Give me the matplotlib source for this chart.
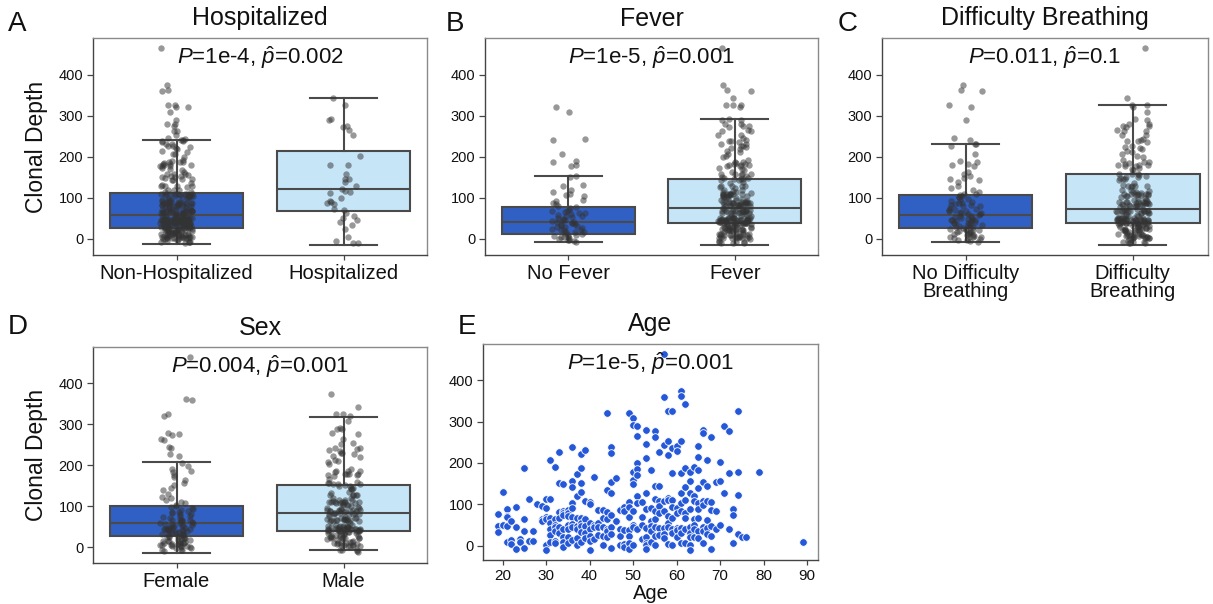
import numpy as np
import matplotlib
matplotlib.use("Agg")
import matplotlib.pyplot as plt
import seaborn as sns

# ---------------- data ----------------
# Panel E: every patient's age and clonal depth
age = [19, 19, 19,
       20, 20, 20,
       21, 21, 21, 21, 21,
       22, 22, 22,
       23, 23, 23,
       24, 24,
       25, 25, 25, 25,
       26, 26, 26,
       27, 27,
       28,
       29, 29, 29,
       30, 30, 30, 30, 30, 30,
       31, 31, 31, 31, 31, 31, 31,
       32, 32, 32, 32, 32, 32, 32,
       33, 33, 33, 33, 33, 33,
       34, 34, 34, 34, 34, 34, 34, 34,
       35, 35, 35, 35, 35, 35, 35,
       36, 36, 36, 36, 36, 36, 36, 36, 36,
       37, 37, 37, 37, 37, 37, 37,
       38, 38, 38, 38, 38, 38, 38, 38, 38,
       39, 39, 39, 39, 39, 39,
       40, 40, 40, 40, 40, 40, 40,
       41, 41, 41, 41,
       42, 42, 42, 42,
       43, 43, 43, 43, 43,
       44, 44, 44, 44, 44, 44, 44,
       45, 45, 45, 45, 45, 45, 45, 45,
       46, 46, 46,
       47, 47, 47, 47,
       48, 48, 48, 48, 48,
       49, 49, 49, 49, 49, 49, 49, 49,
       50, 50, 50, 50, 50, 50, 50, 50, 50,
       51, 51, 51, 51, 51, 51, 51, 51,
       52, 52, 52, 52,
       53, 53, 53, 53, 53, 53, 53, 53, 53, 53,
       54, 54, 54, 54, 54, 54,
       55, 55, 55, 55, 55, 55, 55, 55, 55,
       56, 56, 56, 56, 56, 56, 56,
       57, 57, 57, 57, 57, 57, 57, 57,
       58, 58, 58, 58, 58, 58, 58, 58, 58,
       59, 59, 59, 59, 59, 59, 59, 59, 59,
       60, 60, 60, 60, 60, 60, 60,
       61, 61, 61, 61, 61, 61, 61, 61, 61, 61,
       62, 62, 62, 62, 62, 62, 62, 62,
       63, 63, 63, 63, 63, 63, 63, 63, 63,
       64, 64, 64, 64, 64, 64, 64,
       65, 65, 65, 65, 65, 65, 65, 65, 65,
       66, 66, 66, 66, 66, 66, 66, 66,
       67, 67, 67, 67, 67, 67,
       68, 68, 68, 68, 68, 68,
       69, 69, 69,
       70, 70, 70,
       71, 71,
       72, 72, 72,
       73, 73, 73,
       74, 74, 74, 74,
       75, 76, 79, 89]

depth = [77, 48, 33,
         130, 51, 50,
         88, 73, 69, 48, 10,
         59, 14, 5,
         93, 45, -7,
         17, 10,
         187, 64, 37, -6,
         114, 13, 11,
         37, 13,
         100,
         97, 64, 59,
         114, 91, 69, 65, 2, -10,
         206, 114, 67, 56, 40, 27, 9,
         190, 65, 51, 45, 35, 13, 6,
         227, 151, 82, 68, 45, 32,
         149, 84, 80, 75, 40, 22, 9, -3,
         87, 80, 72, 50, 41, 21, 6,
         239, 157, 143, 103, 91, 70, 53, 45, 14,
         173, 120, 67, 48, 40, 18, 2,
         222, 187, 151, 131, 67, 55, 47, 33, 9,
         231, 109, 64, 48, 30, 18,
         105, 101, 56, 40, 25, 13, -10,
         167, 51, 45, 16,
         86, 55, 45, 27,
         87, 67, 45, 25, 1,
         320, 135, 82, 64, 40, 35, 21,
         238, 223, 153, 128, 74, 45, 28, -6,
         163, 61, 60,
         87, 41, 25, 2,
         95, 83, 39, 4, -2,
         320, 107, 95, 70, 39, 25, 6, -7,
         308, 292, 179, 159, 149, 83, 51, 45, 3,
         289, 265, 199, 185, 171, 120, 103, 41,
         107, 69, 50, 16,
         280, 245, 211, 128, 90, 43, 22, 8, 2, -7,
         183, 91, 60, 47, 37, 9,
         276, 262, 145, 112, 83, 65, 45, 25, 2,
         227, 145, 109, 96, 80, 44, 27,
         464, 360, 243, 109, 85, 43, 29, 20,
         325, 254, 219, 116, 110, 71, 55, 45, 5,
         325, 235, 177, 110, 93, 67, 40, 32, 2,
         241, 230, 91, 80, 43, 38, 22,
         374, 362, 253, 177, 128, 104, 85, 43, 30, 8,
         342, 187, 143, 110, 80, 67, 41, 8,
         179, 157, 127, 90, 46, 32, 22, 1, -11,
         191, 120, 108, 64, 51, 40, 22,
         242, 214, 183, 139, 104, 88, 68, 35, 20,
         280, 273, 155, 109, 98, 45, 37, 6,
         207, 145, 109, 63, 42, 29,
         263, 107, 87, 47, 25, -7,
         153, 83, 40,
         202, 157, 51,
         289, 128,
         276, 177, 40,
         88, 75, 6,
         325, 179, 123, 29,
         21, 22, 179, 10]

# strip values of the first-named group of each box panel (rest = other group)
hospitalized = [342, 325, 292, 289, 276, 273, 265, 254, 202, 179, 179, 157, 147,
                145, 139, 130, 122, 116, 114, 112, 100, 92, 90, 88, 85, 74, 70,
                63, 57, 50, 45, 41, 35, 25, 5, -6, -10, -11]
no_fever = [320, 308, 243, 242, 207, 190, 187, 179, 177, 153, 151, 131, 128, 120,
            114, 109, 107, 104, 96, 93, 88, 86, 80, 77, 75, 71, 69, 67, 65, 64,
            63, 60, 59, 57, 55, 53, 51, 48, 47, 45, 43, 42, 41, 40, 39, 37, 35,
            33, 32, 30, 29, 27, 25, 23, 22, 21, 18, 17, 16, 14, 13, 10, 9, 8, 6,
            5, 4, 2, 1, -2, -3, -6, -7]
no_difficulty = [374, 362, 360, 325, 320, 289, 245, 241, 231, 230, 227, 206, 190,
                 187, 183, 179, 177, 163, 157, 153, 149, 145, 143, 139, 128, 123,
                 120, 114, 110, 109, 107, 105, 103, 101, 98, 95, 93, 91, 88, 87,
                 85, 83, 82, 80, 80, 75, 74, 71, 70, 68, 67, 65, 64, 64, 61, 60,
                 59, 56, 55, 53, 51, 50, 48, 47, 46, 45, 45, 44, 43, 41, 40, 40,
                 39, 37, 35, 33, 32, 30, 29, 28, 27, 25, 25, 22, 22, 21, 20, 18,
                 17, 16, 14, 13, 13, 10, 9, 8, 6, 6, 5, 2, 2, 1, -2, -3, -6, -7]
female = [464, 362, 360, 325, 320, 280, 276, 273, 263, 262, 245, 241, 227, 223,
          206, 199, 190, 185, 183, 177, 171, 163, 157, 151, 145, 139, 130, 123,
          120, 114, 110, 107, 104, 101, 98, 95, 93, 91, 88, 86, 85, 83, 80, 80,
          77, 75, 73, 70, 69, 67, 66, 65, 64, 63, 61, 60, 59, 58, 57, 56, 55, 53,
          51, 51, 50, 48, 47, 46, 45, 45, 45, 44, 43, 42, 41, 40, 40, 39, 38, 37,
          35, 34, 33, 32, 31, 30, 29, 28, 27, 25, 25, 24, 22, 22, 21, 20, 18, 17,
          16, 15, 14, 13, 13, 11, 10, 9, 9, 8, 7, 6, 6, 5, 4, 3, 2, 2, 1, 0, -2,
          -3, -6, -7, -7, -10]

# box statistics: [first group, second group]
panels = [
    dict(title="Hospitalized", letter="A", names=["Non-Hospitalized", "Hospitalized"],
         ptxt=r"$P$=1e-4, $\hat{p}$=0.002",
         q1=[26, 69], med=[59, 122], q3=[112, 213], lo=[-12, -14], hi=[242, 343]),
    dict(title="Fever", letter="B", names=["No Fever", "Fever"],
         ptxt=r"$P$=1e-5, $\hat{p}$=0.001",
         q1=[12, 39], med=[41, 76], q3=[78, 146], lo=[-8, -15], hi=[154, 293]),
    dict(title="Difficulty Breathing", letter="C",
         names=["No Difficulty\nBreathing", "Difficulty\nBreathing"],
         ptxt=r"$P$=0.011, $\hat{p}$=0.1",
         q1=[26, 38], med=[59, 73], q3=[108, 158], lo=[-8, -14], hi=[230, 327]),
    dict(title="Sex", letter="D", names=["Female", "Male"],
         ptxt=r"$P$=0.004, $\hat{p}$=0.001",
         q1=[26, 39], med=[58, 83], q3=[101, 152], lo=[-14, -8], hi=[208, 319]),
]
e_ptxt = r"$P$=1e-5, $\hat{p}$=0.001"


def complement(master, subset):
    pool = list(master)
    for v in subset:
        j = int(np.argmin([abs(p - v) for p in pool]))
        pool.pop(j)
    return pool


first_groups = [complement(depth, hospitalized), no_fever, no_difficulty, female]
second_groups = [hospitalized, complement(depth, no_fever),
                 complement(depth, no_difficulty), complement(depth, female)]

# ---------------- style ----------------
plt.rcParams['font.family'] = ['Liberation Sans', 'DejaVu Sans']
plt.rcParams['mathtext.fontset'] = 'custom'
plt.rcParams['mathtext.rm'] = 'Liberation Sans'
plt.rcParams['mathtext.it'] = 'Liberation Sans:italic'

DARK = "#3160c4"
LIGHT = "#c6e5f7"
EDGE = "#4a4a4a"
TXT = "#111111"
W, H = 1213, 604

fig = plt.figure(figsize=(W / 100, H / 100), dpi=100)


def fig_axes(l, t, r, b):
    return fig.add_axes([l / W, 1 - b / H, (r - l) / W, (b - t) / H])


rects = [(93, 38, 427, 255), (485, 38, 818, 255), (882, 38, 1208, 255),
         (93, 347, 427, 563)]
letter_pos = [(8, 31), (446, 31), (838, 31), (8, 334)]
YLIM = (-39, 489)


def style_spines(ax):
    for s in ['left', 'bottom']:
        ax.spines[s].set_color('#444444')
        ax.spines[s].set_linewidth(1.0)
    for s in ['top', 'right']:
        ax.spines[s].set_color('#8a8a8a')
        ax.spines[s].set_linewidth(1.0)
    ax.tick_params(axis='y', labelsize=10.5, length=4, width=0.9,
                   color='#444444', labelcolor=TXT, pad=3)


np.random.seed(3)
for i, p in enumerate(panels):
    ax = fig_axes(*rects[i])
    stats = []
    for k in range(2):
        stats.append(dict(med=p['med'][k], q1=p['q1'][k], q3=p['q3'][k],
                          whislo=p['lo'][k], whishi=p['hi'][k], fliers=[]))
    bp = ax.bxp(stats, positions=[0, 1], widths=0.8, patch_artist=True,
                showfliers=False, capwidths=[0.4, 0.4],
                boxprops=dict(edgecolor=EDGE, linewidth=1.5),
                medianprops=dict(color=EDGE, linewidth=1.5),
                whiskerprops=dict(color=EDGE, linewidth=1.5),
                capprops=dict(color=EDGE, linewidth=1.5))
    bp['boxes'][0].set_facecolor(DARK)
    bp['boxes'][1].set_facecolor(LIGHT)
    g1, g2 = first_groups[i], second_groups[i]
    xs = [p['names'][0]] * len(g1) + [p['names'][1]] * len(g2)
    sns.stripplot(x=xs, y=g1 + g2, order=p['names'], ax=ax, color='#333333',
                  alpha=0.5, size=4.6, jitter=True, zorder=3, linewidth=0)
    ax.set_xlim(-0.5, 1.5 if i != 2 else 1.45)
    ax.set_ylim(*YLIM)
    ax.set_yticks([0, 100, 200, 300, 400])
    ax.set_xticks([0, 1])
    ax.set_xticklabels(p['names'], fontsize=14.5, color=TXT, linespacing=0.95)
    ax.tick_params(axis='x', length=3.5, width=0.9, color='#444444', pad=3)
    style_spines(ax)
    ax.set_xlabel("")
    if i in (0, 3):
        ax.set_ylabel("Clonal Depth", fontsize=16.5, color=TXT, labelpad=8)
    else:
        ax.set_ylabel("")
    ax.set_title(p['title'], fontsize=18, color=TXT, pad=9)
    ax.text(0.5, 0.91, p['ptxt'], transform=ax.transAxes, ha='center',
            va='center', fontsize=16, color=TXT, zorder=5)
    lx, ly = letter_pos[i]
    fig.text(lx / W, 1 - ly / H, p['letter'], fontsize=20, color=TXT,
             va='baseline', ha='left')

# ---------------- panel E ----------------
ax = fig_axes(483, 344, 818, 560)
ax.scatter(age, depth, s=30, color='#2558d9', edgecolors='white',
           linewidths=0.6, zorder=3)
ax.set_xlim(15.5, 92.5)
ax.set_ylim(-34, 487)
ax.set_yticks([0, 100, 200, 300, 400])
ax.set_xticks([20, 30, 40, 50, 60, 70, 80, 90])
ax.tick_params(axis='x', labelsize=11, length=3.5, width=0.9, color='#444444',
               labelcolor=TXT, pad=3)
style_spines(ax)
ax.set_xlabel("Age", fontsize=14.5, color=TXT, labelpad=1)
ax.set_title("Age", fontsize=18, color=TXT, pad=9)
ax.text(0.5, 0.91, e_ptxt, transform=ax.transAxes, ha='center', va='center',
        fontsize=16, color=TXT, zorder=5)
fig.text(458 / W, 1 - 334 / H, "E", fontsize=20, color=TXT, va='baseline',
         ha='left')

fig.savefig("out.png", dpi=100)
